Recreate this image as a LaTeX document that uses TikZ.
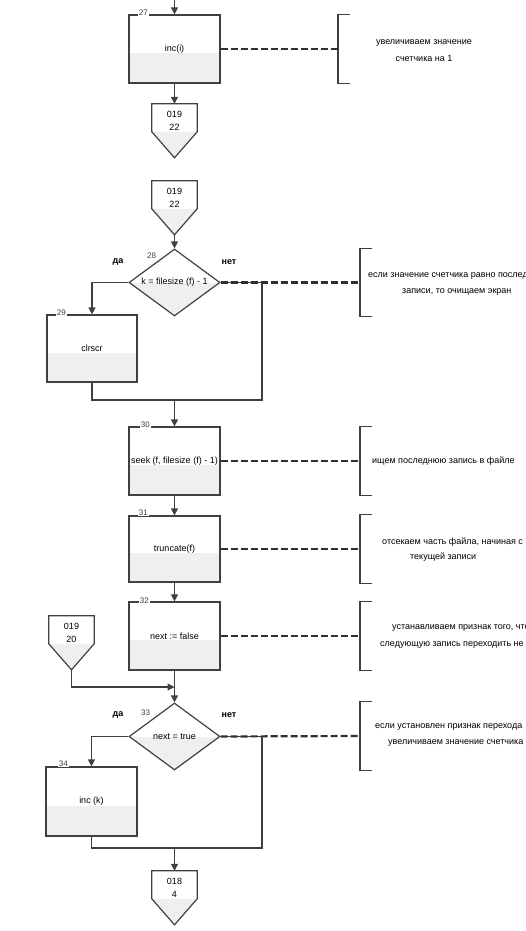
\documentclass[tikz,border=0pt]{standalone}
\usepackage{fontspec}
\setmainfont{Liberation Sans}
\usetikzlibrary{shapes.geometric,arrows.meta,calc}
\definecolor{ln}{HTML}{404040}
\definecolor{lowfill}{HTML}{EFEFEF}
\definecolor{dshc}{HTML}{303030}
\tikzset{
  txt/.style={font=\fontsize{9}{13}\selectfont},
  proc/.style={txt, rectangle, draw=ln, line width=1.2pt, minimum width=91pt, minimum height=68pt, inner sep=1pt,
    path picture={\fill[lowfill] ([yshift=-4pt]path picture bounding box.west) rectangle (path picture bounding box.south east);}},
  dec/.style={txt, diamond, draw=ln, line width=1.2pt, minimum width=91pt, minimum height=67pt, inner sep=0pt, shape aspect=1.36,
    path picture={\fill[lowfill] (path picture bounding box.west) rectangle (path picture bounding box.south east);}},
  num/.style={font=\fontsize{8}{9}\selectfont, fill=white, inner sep=1pt, text=ln},
  flow/.style={draw=ln, line width=1.2pt},
  arr/.style={flow, -{Triangle[length=7pt,width=7pt]}},
  dashline/.style={draw=dshc, line width=2.2pt, dash pattern=on 7pt off 3pt},
  brkbox/.style={minimum width=12pt, minimum height=68pt, inner sep=0pt},
  brkline/.style={draw=ln, line width=1.2pt},
  cmt/.style={font=\fontsize{9}{13}\selectfont, inner sep=0pt},
  conn/.style={txt, minimum width=45pt, minimum height=34pt, inner sep=0pt, align=center},
  yn/.style={font=\bfseries\fontsize{9}{11}\selectfont}
}
\newcommand\offpg[4]{%
  \node[conn] (#1) at (#2,#3+17) {#4};
  \fill[lowfill] ([yshift=-28pt]#1.north west) -- ([yshift=-28pt]#1.north east) -- ([yshift=-54pt]#1.north) -- cycle;
  \draw[flow] (#1.north west) -- (#1.north east) -- ([yshift=-28pt]#1.north east) -- ([yshift=-54pt]#1.north) -- ([yshift=-28pt]#1.north west) -- cycle;
}
\newcommand\brkt[3]{%
  \node[brkbox, anchor=west] (#1) at (#2,#3) {};
  \draw[brkline] (#1.north east) -- (#1.north west) -- (#1.south west) -- (#1.south east);
}
\begin{document}
\begin{tikzpicture}[x=1pt,y=-1pt]
\useasboundingbox (0,0) rectangle (525,931);
\clip (0,0) rectangle (525,931);

% ---- block 27
\coordinate (top) at (174.5,0);
\node[proc] (b27) at (174.5,49) {inc(i)};
\node[num] (n27) at ([xshift=15pt,yshift=2pt]b27.north west) {27};
\draw[arr] (top) -- (b27.north);
\offpg{c22a}{174.5}{104}{019\\22}
\draw[arr] (b27.south) -- (c22a.north);
\brkt{k27}{338}{49}
\draw[dashline] (b27.east) -- (k27.west);
\node[cmt] (t27a) at (424,43) {увеличиваем значение};
\node[cmt] (t27b) at (424,58) {счетчика на 1};

% ---- decision 28
\offpg{c22b}{174.5}{181}{019\\22}
\node[dec] (d28) at (174.5,282.5) {k = filesize (f) - 1};
\node[num] (n28) at ([xshift=-23pt,yshift=-7pt]d28.north) {28};
\draw[arr] ([yshift=-54pt]c22b.north) -- (d28.north);
\node[yn] (y28) at (118,262) {да};
\node[yn] (no28) at (229,262) {нет};
\node[proc, minimum width=90pt, minimum height=67pt] (b29) at (92,348.5) {clrscr};
\node[num] (n29) at ([xshift=15pt,yshift=2pt]b29.north west) {29};
\draw[arr] (d28.west) -| (b29.north);
\coordinate (r28) at (262,400);
\coordinate (m28) at (174.5,400);
\draw[flow] (d28.east) -| (r28) -- (m28);
\draw[flow] (b29.south) |- (m28);
\brkt{k28}{360}{282.5}
\draw[dashline] (d28.east) -- (k28.west);
\node[cmt, anchor=west] (t28a) at (368,275) {если значение счетчика равно последней};
\node[cmt, anchor=west] (t28b) at (402,292) {записи, то очищаем экран};

% ---- block 30
\node[proc] (b30) at (174.5,461) {seek (f, filesize (f) - 1)};
\node[num] (n30) at ([xshift=17pt,yshift=2pt]b30.north west) {30};
\draw[arr] (m28) -- (b30.north);
\brkt{k30}{360}{461}
\draw[dashline] (b30.east) -- (k30.west);
\node[cmt, anchor=west] (t30) at (372,461) {ищем последнюю запись в файле};

% ---- block 31
\node[proc, minimum height=66pt] (b31) at (174.5,549) {truncate(f)};
\node[num] (n31) at ([xshift=15pt,yshift=3pt]b31.north west) {31};
\draw[arr] (b30.south) -- (b31.north);
\brkt{k31}{360}{549}
\draw[dashline] (b31.east) -- (k31.west);
\node[cmt, anchor=west] (t31a) at (382,542) {отсекаем часть файла, начиная с};
\node[cmt, anchor=west] (t31b) at (410,557) {текущей записи};

% ---- block 32
\node[proc] (b32) at (174.5,636) {next := false};
\node[num] (n32) at ([xshift=16pt,yshift=1pt]b32.north west) {32};
\draw[arr] (b31.south) -- (b32.north);
\brkt{k32}{360}{636}
\draw[dashline] (b32.east) -- (k32.west);
\node[cmt, anchor=west] (t32a) at (392,628) {устанавливаем признак того, что};
\node[cmt, anchor=west] (t32b) at (380,645) {следующую запись переходить не};

% ---- decision 33
\offpg{c20}{71.5}{616}{019\\20}
\node[dec] (d33) at (174.5,736.5) {next = true};
\node[num] (n33) at ([xshift=-29pt,yshift=-10pt]d33.north) {33};
\coordinate (m33) at (174.5,687);
\draw[arr] (b32.south) -- (d33.north);
\draw[arr] ([yshift=-54pt]c20.north) |- (m33);
\node[yn] (y33) at (118,715) {да};
\node[yn] (no33) at (229,715) {нет};
\node[proc, minimum height=69pt] (b34) at (91.5,801.5) {inc (k)};
\node[num] (n34) at ([xshift=18pt,yshift=3pt]b34.north west) {34};
\draw[arr] (d33.west) -| (b34.north);
\coordinate (r33) at (262,848);
\coordinate (m34) at (174.5,848);
\draw[flow] (d33.east) -| (r33) -- (m34);
\draw[flow] (b34.south) |- (m34);
\offpg{c4}{174.5}{871}{018\\4}
\draw[arr] (m34) -- (c4.north);
\brkt{k33}{360}{736}
\draw[dashline] (d33.east) -- (k33.west);
\node[cmt, anchor=west] (t33a) at (375,727) {если установлен признак перехода};
\node[cmt, anchor=west] (t33b) at (388,743) {увеличиваем значение счетчика};
\end{tikzpicture}
\end{document}
